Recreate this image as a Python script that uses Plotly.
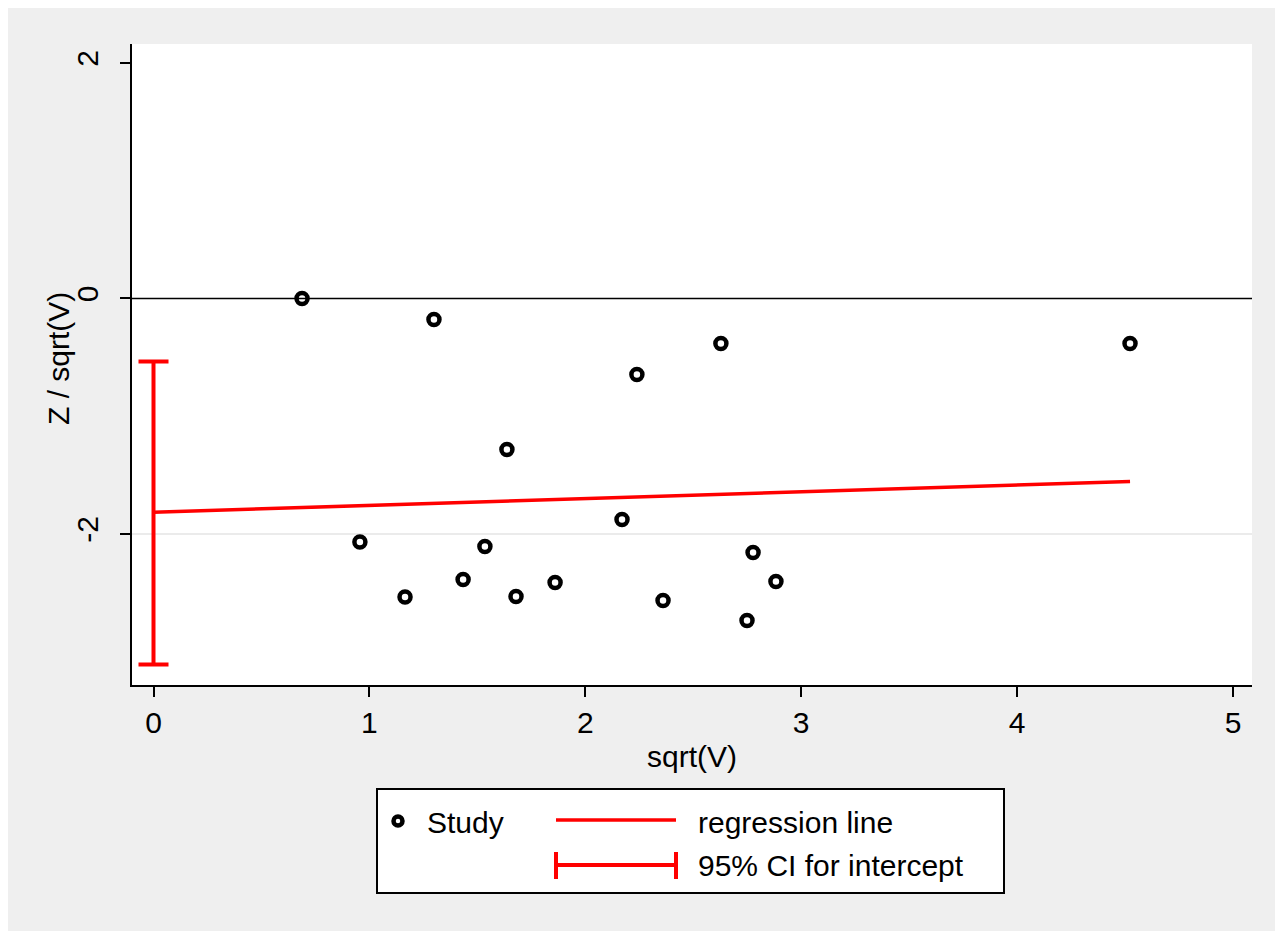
import plotly.graph_objects as go

# ---- data ----
study_x = [0.688, 1.299, 0.956, 1.165, 1.434, 1.535, 1.637, 1.679, 1.860,
           2.170, 2.239, 2.360, 2.628, 2.749, 2.777, 2.883, 4.523]
study_y = [0.000, -0.178, -2.068, -2.535, -2.386, -2.106, -1.282, -2.531, -2.412,
           -1.877, -0.645, -2.565, -0.382, -2.735, -2.157, -2.403, -0.382]
reg_x = [0.0, 4.523]
reg_y = [-1.815, -1.554]
ci_x = [0.0]
ci_center = [-1.815]
ci_upper = [-0.535]
ci_lower = [-3.108]
x_ticks = [0, 1, 2, 3, 4, 5]
y_ticks = [-2, 0, 2]
legend_labels = ["Study", "regression line", "95% CI for intercept"]
x_title = "sqrt(V)"
y_title = "Z / sqrt(V)"

W, H = 1283, 931
OFF = 8  # page body margin
ML, MR, MT, MB = 124, 39, 36, 254
PW, PH = W - ML - MR, H - MT - MB


def px(x):
    return (x - OFF - ML) / PW


def py(y):
    return (H - MB - (y - OFF)) / PH


FONT = "Liberation Sans, Arial, sans-serif"
FS = 30
RED = "#ff0000"

fig = go.Figure()

# CI for intercept
fig.add_trace(go.Scatter(
    x=ci_x, y=ci_center, mode="markers",
    marker=dict(size=1, color="rgba(0,0,0,0)"),
    error_y=dict(type="data", symmetric=False,
                 array=[u - c for u, c in zip(ci_upper, ci_center)],
                 arrayminus=[c - l for l, c in zip(ci_lower, ci_center)],
                 color=RED, thickness=4, width=15),
    showlegend=False, hoverinfo="skip"))

# regression line
fig.add_trace(go.Scatter(x=reg_x, y=reg_y, mode="lines",
                         line=dict(color=RED, width=3.5), showlegend=False))

# studies
fig.add_trace(go.Scatter(x=study_x, y=study_y, mode="markers",
                         marker=dict(symbol="circle-open", size=11, color="black",
                                     line=dict(width=4.5, color="black")),
                         showlegend=False))

shapes = []
# gridline at -2
shapes.append(dict(type="line", xref="paper", yref="y", x0=0, x1=1, y0=-2, y1=-2,
                   line=dict(color="#e4e4e4", width=1.5), layer="below"))
# reference line at 0
shapes.append(dict(type="line", xref="paper", yref="y", x0=0, x1=1, y0=0, y1=0,
                   line=dict(color="black", width=1.6), layer="below"))

# legend box
shapes.append(dict(type="rect", xref="paper", yref="paper", x0=px(377), x1=px(1004),
                   y0=py(893), y1=py(789), fillcolor="white",
                   line=dict(color="black", width=2)))
# legend: study marker
shapes.append(dict(type="circle", xref="paper", yref="paper",
                   x0=px(393.5), x1=px(402.5), y0=py(825.5), y1=py(816.5),
                   line=dict(color="black", width=4.5)))
# legend: regression line
shapes.append(dict(type="line", xref="paper", yref="paper",
                   x0=px(556), x1=px(676), y0=py(820), y1=py(820),
                   line=dict(color=RED, width=3.5)))
# legend: CI
shapes.append(dict(type="line", xref="paper", yref="paper",
                   x0=px(556), x1=px(676), y0=py(865), y1=py(865),
                   line=dict(color=RED, width=4)))
for xx in (556, 676):
    shapes.append(dict(type="line", xref="paper", yref="paper",
                       x0=px(xx), x1=px(xx), y0=py(852), y1=py(879),
                       line=dict(color=RED, width=4)))

annotations = [
    dict(xref="paper", yref="paper", x=px(425), y=py(822), text=legend_labels[0],
         showarrow=False, xanchor="left", yanchor="middle",
         font=dict(family=FONT, size=FS, color="black")),
    dict(xref="paper", yref="paper", x=px(696), y=py(822), text=legend_labels[1],
         showarrow=False, xanchor="left", yanchor="middle",
         font=dict(family=FONT, size=FS, color="black")),
    dict(xref="paper", yref="paper", x=px(696), y=py(865), text=legend_labels[2],
         showarrow=False, xanchor="left", yanchor="middle",
         font=dict(family=FONT, size=FS, color="black")),
    # y-axis title
    dict(xref="paper", yref="paper", x=px(58), y=py(359), text=y_title,
         textangle=-90, showarrow=False, xanchor="center", yanchor="middle",
         font=dict(family=FONT, size=FS, color="black")),
]

fig.update_layout(
    width=W, height=H,
    margin=dict(l=ML, r=MR, t=MT, b=MB, autoexpand=False),
    paper_bgcolor="#efefef", plot_bgcolor="white",
    font=dict(family=FONT, size=FS, color="black"),
    shapes=shapes, annotations=annotations,
    showlegend=False,
    xaxis=dict(range=[-0.0996, 5.088], tickvals=x_ticks, ticktext=[str(v) for v in x_ticks],
               showgrid=False, zeroline=False, showline=True, linecolor="black", linewidth=2,
               ticks="outside", ticklen=10, tickwidth=2, tickcolor="black",
               tickfont=dict(size=FS),
               title=dict(text=x_title, font=dict(size=FS), standoff=8)),
    yaxis=dict(range=[-3.282, 2.161], tickvals=y_ticks, ticktext=[str(v) for v in y_ticks],
               showgrid=False, zeroline=False, showline=True, linecolor="black", linewidth=2,
               ticks="outside", ticklen=10, tickwidth=2, tickcolor="black",
               tickangle=-90, tickfont=dict(size=FS), ticklabelstandoff=10),
)

fig.write_html("out.html")
